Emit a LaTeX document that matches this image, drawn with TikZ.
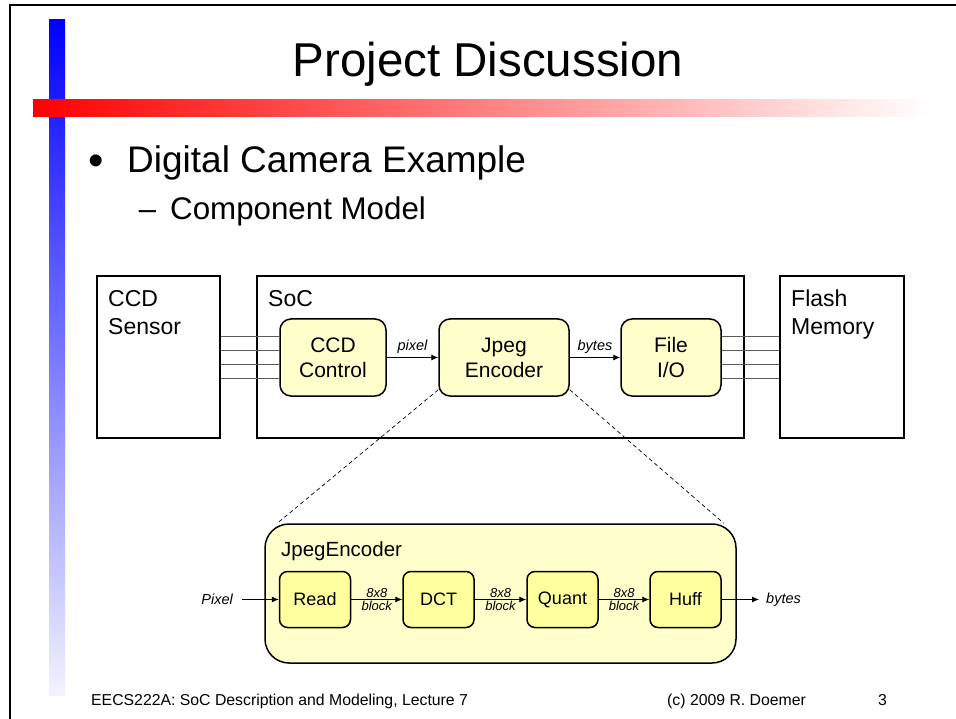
\documentclass[tikz,border=0pt]{standalone}
\usepackage{fontspec}
\setmainfont{Liberation Sans}
\usetikzlibrary{arrows.meta,calc}

\definecolor{paleyellow}{RGB}{255,255,204}
\definecolor{blockyellow}{RGB}{255,255,160}
\definecolor{busgray}{RGB}{90,90,90}

\tikzset{
  outerbox/.style={draw, line width=2.6pt, minimum height=162, inner sep=0},
  unitbox/.style={draw, line width=1.5pt, fill=paleyellow, rounded corners=11pt,
    minimum height=77, align=center, font=\fontsize{21}{25}\selectfont},
  stagebox/.style={draw, line width=1.5pt, fill=blockyellow, rounded corners=8pt,
    minimum width=71, minimum height=56, font=\fontsize{18}{22}\selectfont},
  boxlabel/.style={anchor=north west, inner sep=0, align=left,
    font=\fontsize{23}{28}\selectfont},
  arr/.style={-{Latex[length=7pt,width=6pt]}, line width=0.8pt},
  bus/.style={busgray, line width=1.3pt},
  zoomline/.style={dashed, dash pattern=on 4pt off 3pt, line width=0.7pt},
  smalllbl/.style={font=\fontsize{14.5}{16}\selectfont\itshape},
  tinylbl/.style={font=\fontsize{13}{14}\selectfont\itshape, inner sep=1pt},
  foottext/.style={anchor=base west, inner sep=0, font=\fontsize{15.8}{18}\selectfont},
}

\begin{document}
\begin{tikzpicture}[x=1pt,y=-1pt]
\useasboundingbox (0,0) rectangle (956,719);
\fill[white] (0,0) rectangle (956,719);

% slide frame (top and left edge)
\draw[line width=2.5pt] (10,719) |- (956,5);

% decorative bars
\shade[top color=blue, bottom color=blue!5] (49,20) rectangle (65,695);
\shade[left color=red, right color=white] (33,100) rectangle (930,117);

% title and bullets
\node[anchor=base, inner sep=0, font=\fontsize{47.5}{52}\selectfont] (title) at (488,77) {Project Discussion};
\node[anchor=center, inner sep=0, font=\fontsize{44}{48}\selectfont] (dot) at (96,165) {•};
\node[anchor=base west, inner sep=0, font=\fontsize{37}{40}\selectfont] (item) at (127,173) {Digital Camera Example};
\node[anchor=center, inner sep=0, font=\fontsize{31}{34}\selectfont] (dash) at (147.5,215) {–};
\node[anchor=base west, inner sep=0, font=\fontsize{31.3}{34}\selectfont] (subitem) at (170,220) {Component Model};

% component model
\node[outerbox, minimum width=123] (sensor) at (158.5,357) {};
\node[outerbox, minimum width=487] (soc) at (500.5,357) {};
\node[outerbox, minimum width=124] (flash) at (842,357) {};
\node[boxlabel] (sensorlbl) at (108,290) {CCD\\Sensor};
\node[boxlabel] (soclbl) at (268,290) {SoC};
\node[boxlabel] (flashlbl) at (791,290) {Flash\\Memory};

\node[unitbox, minimum width=106] (ccdctl) at (333,357.5) {CCD\\Control};
\node[unitbox, minimum width=130] (jpeg) at (504,357.5) {Jpeg\\Encoder};
\node[unitbox, minimum width=100] (fileio) at (671,357.5) {File\\I/O};

% parallel buses
\foreach \d in {-21,-7,7,21} {
  \path ($(ccdctl.west)+(0,\d)$) coordinate (bl);
  \draw[bus] (bl) -- (bl -| sensor.east);
  \path ($(fileio.east)+(0,\d)$) coordinate (br);
  \draw[bus] (br) -- (br -| flash.west);
}

\draw[arr] (ccdctl) -- node[above, smalllbl, inner sep=4pt] {pixel} (jpeg);
\draw[arr] (jpeg) -- node[above, smalllbl, inner sep=4pt] {bytes} (fileio);

% encoder refinement
\node[draw, line width=1.5pt, fill=paleyellow, rounded corners=24pt,
  minimum width=471, minimum height=139] (enc) at (500.5,593.5) {};
\node[anchor=base west, inner sep=0, font=\fontsize{20.5}{24}\selectfont] (enclbl) at (281,556) {JpegEncoder};

\draw[zoomline] ($(jpeg.south west)+(0,-7)$) -- ($(enc.north west)+(13,0)$);
\draw[zoomline] ($(jpeg.south east)+(0,-7)$) -- ($(enc.north east)+(-13,0)$);

\node[stagebox] (read) at (315,599.5) {Read};
\node[stagebox] (dct) at (438.5,599.5) {DCT};
\node[stagebox] (quant) at (562.5,599.5) {Quant};
\node[stagebox] (huff) at (685.5,599.5) {Huff};

\node[smalllbl, anchor=east, inner xsep=9pt, inner ysep=0] (pin) at (242,599.5) {Pixel};
\node[smalllbl, anchor=west, inner xsep=7pt, inner ysep=0] (bout) at (759,599.5) {bytes};

\draw[arr] (pin) -- (read);
\draw[arr] (read) -- node[above, tinylbl] {8x8} node[below, tinylbl] {block} (dct);
\draw[arr] (dct) -- node[above, tinylbl] {8x8} node[below, tinylbl] {block} (quant);
\draw[arr] (quant) -- node[above, tinylbl] {8x8} node[below, tinylbl] {block} (huff);
\draw[arr] (huff) -- (bout);

% footer
\node[foottext] (foot) at (91,705) {EECS222A: SoC Description and Modeling, Lecture 7};
\node[foottext] (copy) at (667,705) {(c) 2009 R. Doemer};
\node[foottext] (page) at (878,705) {3};
\end{tikzpicture}
\end{document}
